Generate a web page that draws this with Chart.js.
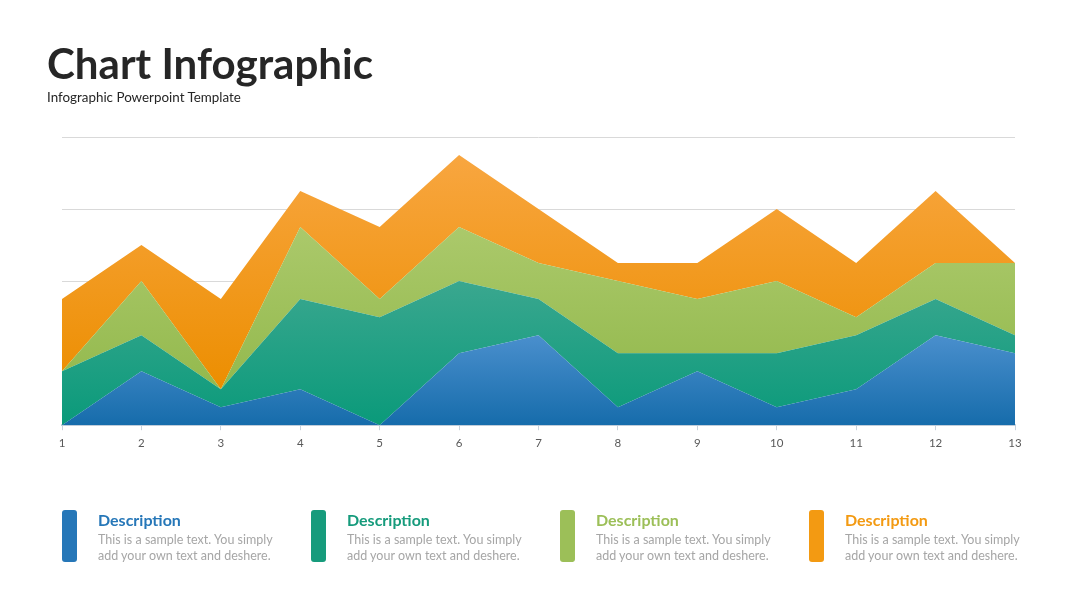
<!DOCTYPE html>
<html>
<head>
<meta charset="utf-8">
<script src="https://cdn.jsdelivr.net/npm/chart.js@4/dist/chart.umd.min.js"></script>
<style>
  html, body { margin: 0; padding: 0; background: #ffffff; }
  #wrap { position: relative; width: 1080px; height: 608px; overflow: hidden; background: #fff; }
  #c { position: absolute; left: 0; top: 0; }
  .abs { position: absolute; white-space: nowrap; }
  #title { left: 47px; top: 38px; font-family: "Lato", "Open Sans", sans-serif; font-weight: 700; font-size: 42px; color: #262626; line-height: 50px; transform-origin: 0 0; }
  #subtitle { left: 47px; top: 89px; font-family: "Lato", sans-serif; font-size: 13.4px; color: #262626; line-height: 16px; }
  .bar { position: absolute; width: 15px; height: 52px; top: 510px; border-radius: 3px; }
  .head { position: absolute; top: 510px; font-family: "Lato", sans-serif; font-weight: 700; font-size: 16px; line-height: 20px; white-space: nowrap; }
  .body { position: absolute; top: 532px; font-family: "Lato", sans-serif; font-size: 12.5px; line-height: 16px; color: #a6a6a6; white-space: nowrap; }
</style>
</head>
<body>
<div id="wrap">
  <canvas id="c" width="1080" height="608"></canvas>
  <div id="title" class="abs">Chart Infographic</div>
  <div id="subtitle" class="abs">Infographic Powerpoint Template</div>
  <div id="desc"></div>
</div>
<script>
// ---- data ----
const categories = ["1","2","3","4","5","6","7","8","9","10","11","12","13"];
const seriesBlue   = [0, 3, 1, 2, 0, 4, 5, 1, 3, 1, 2, 5, 4];
const seriesTeal   = [3, 2, 1, 5, 6, 4, 2, 3, 1, 3, 3, 2, 1];
const seriesGreen  = [0, 3, 0, 4, 1, 3, 2, 4, 3, 4, 1, 2, 4];
const seriesOrange = [4, 2, 5, 2, 4, 4, 3, 1, 2, 4, 3, 4, 0];
const yTicks = [0, 4, 8, 12, 16];
const descTitles = ["Description", "Description", "Description", "Description"];
const descLine1 = "This is a sample text. You simply";
const descLine2 = "add your own text and deshere.";

// ---- styles ----
const colors = {
  blue:   { top: "#4a8fcd", bottom: "#166cab", solid: "#2677b8" },
  teal:   { top: "#3aa78f", bottom: "#0a9a7a", solid: "#169b7c" },
  green:  { top: "#abc96b", bottom: "#93b94d", solid: "#9cbf58" },
  orange: { top: "#f8a640", bottom: "#ec8e00", solid: "#f39a12" }
};
const seriesList = [
  { data: seriesBlue, c: colors.blue },
  { data: seriesTeal, c: colors.teal },
  { data: seriesGreen, c: colors.green },
  { data: seriesOrange, c: colors.orange }
];

// cumulative extents per dataset (for gradient range)
function extents(idx) {
  let topMax = 0, botMin = Infinity;
  for (let i = 0; i < categories.length; i++) {
    let below = 0;
    for (let k = 0; k < idx; k++) below += seriesList[k].data[i];
    const top = below + seriesList[idx].data[i];
    topMax = Math.max(topMax, top);
    botMin = Math.min(botMin, below);
  }
  return [topMax, botMin];
}

function gradFor(idx) {
  return function (context) {
    const chart = context.chart;
    const area = chart.chartArea;
    const c = seriesList[idx].c;
    if (!area) return c.solid;
    const y = chart.scales.y;
    const [tv, bv] = extents(idx);
    const y0 = y.getPixelForValue(tv), y1 = y.getPixelForValue(bv);
    const g = chart.ctx.createLinearGradient(0, y0, 0, y1);
    g.addColorStop(0, c.top);
    g.addColorStop(1, c.bottom);
    return g;
  };
}

const datasets = seriesList.map((s, i) => ({
  label: "S" + (i + 1),
  data: s.data,
  fill: i === 0 ? "origin" : "-1",
  backgroundColor: gradFor(i),
  borderWidth: 0,
  borderColor: "rgba(0,0,0,0)",
  pointRadius: 0,
  pointHoverRadius: 0,
  tension: 0
}));

new Chart(document.getElementById("c"), {
  type: "line",
  data: { labels: categories, datasets: datasets },
  options: {
    responsive: false,
    animation: false,
    events: [],
    layout: { padding: { left: 62, right: 65, top: 137, bottom: 152 } },
    plugins: { legend: { display: false }, tooltip: { enabled: false } },
    scales: {
      x: {
        z: 1,
        offset: false,
        grid: { drawOnChartArea: false, drawTicks: true, tickLength: 5, color: "#c9d3dd", lineWidth: 1 },
        border: { display: true, color: "#c3cfdb", width: 2 },
        ticks: { color: "#595959", font: { family: "Lato", size: 11.5 }, padding: 6, maxRotation: 0, autoSkip: false }
      },
      y: {
        stacked: true,
        min: yTicks[0],
        max: yTicks[yTicks.length - 1],
        afterBuildTicks: (axis) => { axis.ticks = yTicks.map(v => ({ value: v })); },
        grid: { color: "#d9d9d9", lineWidth: 1, drawTicks: false },
        border: { display: false },
        ticks: { display: false }
      }
    }
  }
});

// ---- description blocks ----
const desc = document.getElementById("desc");
const order = ["blue", "teal", "green", "orange"];
order.forEach((k, i) => {
  const x = 62 + i * 249;
  const bar = document.createElement("div");
  bar.className = "bar";
  bar.style.left = x + "px";
  bar.style.background = colors[k].solid;
  desc.appendChild(bar);
  const h = document.createElement("div");
  h.className = "head";
  h.style.left = (x + 36) + "px";
  h.style.color = colors[k].solid;
  h.textContent = descTitles[i];
  desc.appendChild(h);
  const b = document.createElement("div");
  b.className = "body";
  b.style.left = (x + 36) + "px";
  b.innerHTML = descLine1 + "<br>" + descLine2;
  desc.appendChild(b);
});

// fit title width
const t = document.getElementById("title");
const w = t.getBoundingClientRect().width;
t.style.transform = "scaleX(" + (326 / w) + ")";
</script>
</body>
</html>
